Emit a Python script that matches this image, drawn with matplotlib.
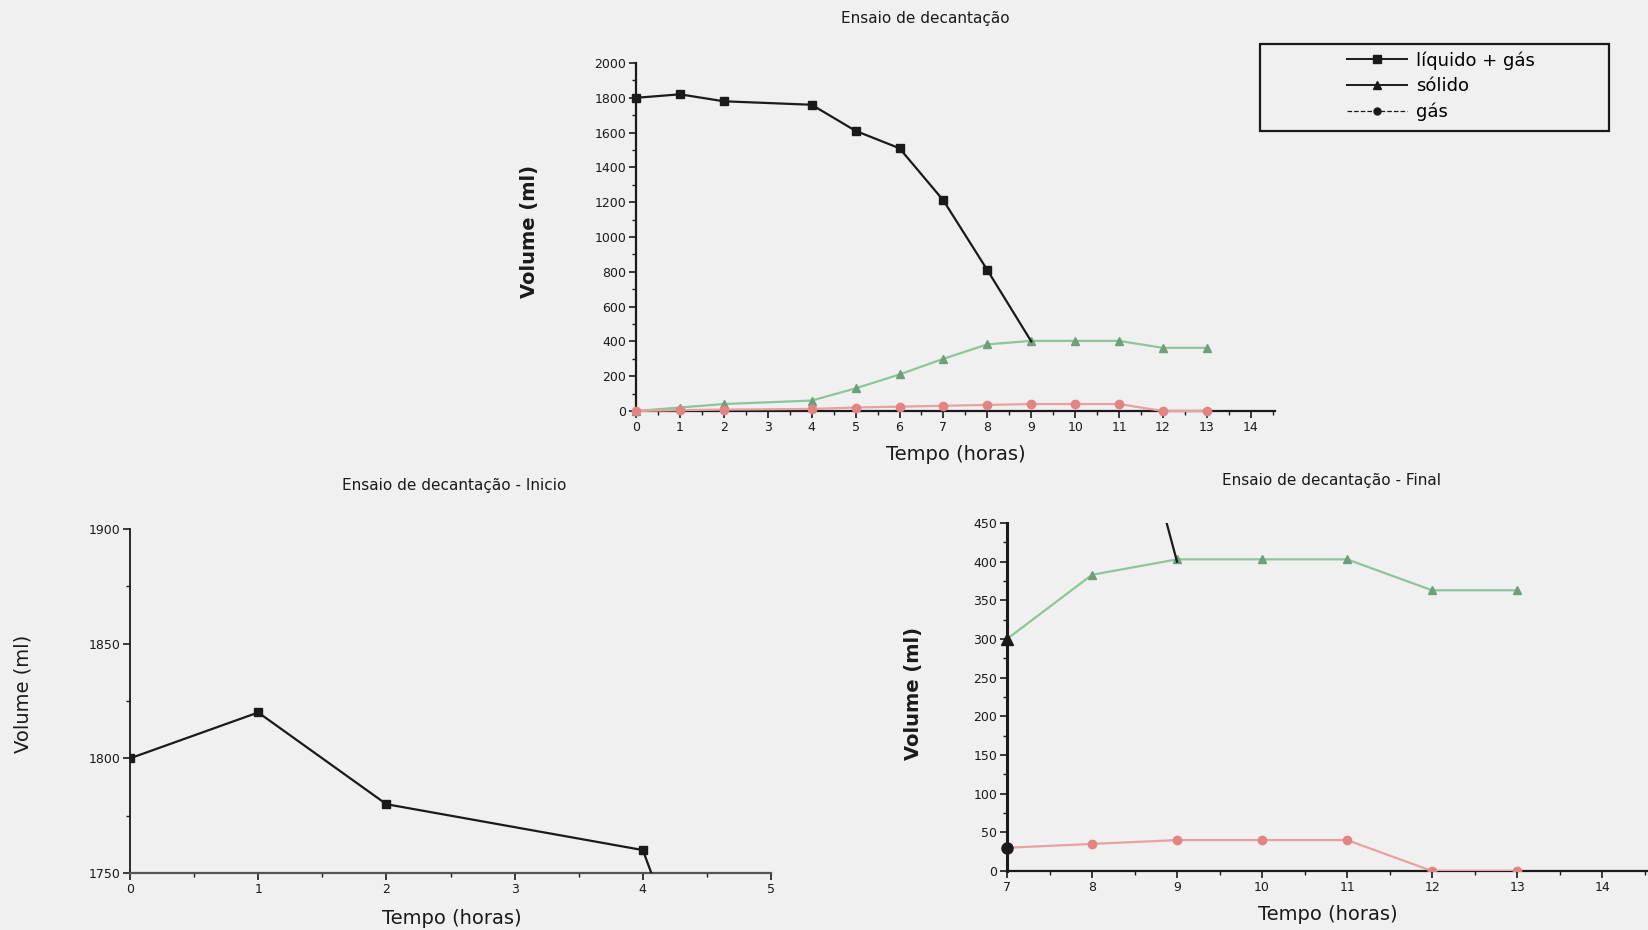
import matplotlib
matplotlib.use("Agg")
import matplotlib.pyplot as plt
from matplotlib.lines import Line2D
from matplotlib.patches import Rectangle
from matplotlib.ticker import MultipleLocator

# ---- data ----
tempo = [0, 1, 2, 4, 5, 6, 7, 8, 9]
liquido_gas = [1800, 1820, 1780, 1760, 1610, 1510, 1210, 810, 400]

tempo_s = [0, 1, 2, 4, 5, 6, 7, 8, 9, 10, 11, 12, 13]
solido = [0, 20, 40, 60, 130, 210, 300, 383, 403, 403, 403, 363, 363]
gas = [0, 5, 8, 12, 20, 25, 30, 35, 40, 40, 40, 0, 0]

labels = ["líquido + gás", "sólido", "gás"]
titles = ["Ensaio de decantação", "Ensaio de decantação - Inicio", "Ensaio de decantação - Final"]
xlabel = "Tempo (horas)"
ylabel = "Volume (ml)"

BG = "#f0f0f0"
BLACK = "#1a1a1a"
GREEN_L = "#8cc69a"
GREEN_M = "#6f9e7b"
RED_L = "#eaa0a0"
RED_M = "#e38484"

W, H = 1648, 930
fig = plt.figure(figsize=(W / 100, H / 100), dpi=100, facecolor=BG)


def fx(px):
    return px / W


def fy(py):
    return 1 - py / H


def make_ax(l, t, r, b):
    ax = fig.add_axes([fx(l), fy(b), fx(r - l), (b - t) / H])
    ax.set_facecolor(BG)
    for s in ("top", "right"):
        ax.spines[s].set_visible(False)
    for s in ("left", "bottom"):
        ax.spines[s].set_color(BLACK)
        ax.spines[s].set_linewidth(1.6)
    ax.tick_params(which="major", direction="out", length=5, width=1.2, colors=BLACK,
                   labelsize=9, pad=2)
    ax.tick_params(which="minor", direction="out", length=3, width=1.0, colors=BLACK)
    return ax


def draw_series(ax, clip=True):
    ax.plot(tempo_s, solido, color=GREEN_L, lw=1.6, marker="^", ms=6,
            mfc=GREEN_M, mec=GREEN_M, clip_on=clip, zorder=3)
    ax.plot(tempo_s, gas, color=RED_L, lw=1.6, marker="o", ms=6,
            mfc=RED_M, mec=RED_M, clip_on=clip, zorder=3)
    ax.plot(tempo, liquido_gas, color=BLACK, lw=1.6, marker="s", ms=6,
            mfc=BLACK, mec=BLACK, markevery=list(range(len(tempo) - 1)),
            clip_on=clip, zorder=4)


# ---- top chart ----
ax1 = make_ax(636, 63, 1275, 411)
draw_series(ax1, clip=False)
ax1.set_xlim(0, 14.55)
ax1.set_ylim(0, 2000)
ax1.xaxis.set_minor_locator(MultipleLocator(0.5))
ax1.yaxis.set_major_locator(MultipleLocator(200))
ax1.yaxis.set_minor_locator(MultipleLocator(100))
ax1.set_xticks(range(0, 15))
fig.text(fx(925), fy(19), titles[0], ha="center", va="center", fontsize=11, color=BLACK)
fig.text(fx(529), fy(231), ylabel, ha="center", va="center", rotation=90,
         fontsize=14, fontweight="bold", color=BLACK)
fig.text(fx(956), fy(454), xlabel, ha="center", va="center", fontsize=14, color=BLACK)

# legend
handles = [
    Line2D([], [], color=BLACK, lw=1.4, marker="s", ms=6, mfc=BLACK),
    Line2D([], [], color=BLACK, lw=1.4, marker="^", ms=6, mfc=BLACK),
    Line2D([], [], color=BLACK, lw=0.9, ls="--", marker="o", ms=5, mfc=BLACK),
]
leg = fig.legend(handles, labels, loc="upper left",
                 bbox_to_anchor=(fx(1347), fy(51)), bbox_transform=fig.transFigure,
                 frameon=False, fontsize=13, handlelength=3.3, borderpad=0.0,
                 labelspacing=0.42, borderaxespad=0, handletextpad=0.5)
fig.patches.append(Rectangle((fx(1260), fy(131)), fx(1609 - 1260), (131 - 44) / H,
                             transform=fig.transFigure, fill=False,
                             edgecolor=BLACK, lw=1.6))

# ---- bottom-left chart ----
ax2 = make_ax(130, 529, 771, 873)
draw_series(ax2)
ax2.set_xlim(0, 5)
ax2.set_ylim(1750, 1900)
ax2.xaxis.set_major_locator(MultipleLocator(1))
ax2.xaxis.set_minor_locator(MultipleLocator(0.5))
ax2.yaxis.set_major_locator(MultipleLocator(50))
ax2.yaxis.set_minor_locator(MultipleLocator(25))
ax2.spines["left"].set_linewidth(1.3)
ax2.spines["bottom"].set_color("#555555")
fig.text(fx(454), fy(485), titles[1], ha="center", va="center", fontsize=11, color=BLACK)
fig.text(fx(23), fy(694), ylabel, ha="center", va="center", rotation=90,
         fontsize=14, color=BLACK)
fig.text(fx(452), fy(918), xlabel, ha="center", va="center", fontsize=14, color=BLACK)

# ---- bottom-right chart ----
ax3 = make_ax(1007, 523, 1648, 871)
draw_series(ax3)
i7 = tempo_s.index(7)
ax3.plot([tempo_s[i7]], [solido[i7]], marker="^", ms=8, color=BLACK, ls="none",
         clip_on=False, zorder=5)
ax3.plot([tempo_s[i7]], [gas[i7]], marker="o", ms=8, color=BLACK, ls="none",
         clip_on=False, zorder=5)
ax3.set_xlim(7, 14.54)
ax3.set_ylim(0, 450)
ax3.xaxis.set_minor_locator(MultipleLocator(0.5))
ax3.yaxis.set_major_locator(MultipleLocator(50))
ax3.yaxis.set_minor_locator(MultipleLocator(25))
ax3.set_xticks(range(7, 15))
ax3.spines["left"].set_linewidth(2.2)
fig.text(fx(1332), fy(480), titles[2], ha="center", va="center", fontsize=11, color=BLACK)
fig.text(fx(914), fy(694), ylabel, ha="center", va="center", rotation=90,
         fontsize=14, fontweight="bold", color=BLACK)
fig.text(fx(1328), fy(914), xlabel, ha="center", va="center", fontsize=14, color=BLACK)

fig.savefig("out.png", dpi=100, facecolor=BG)
